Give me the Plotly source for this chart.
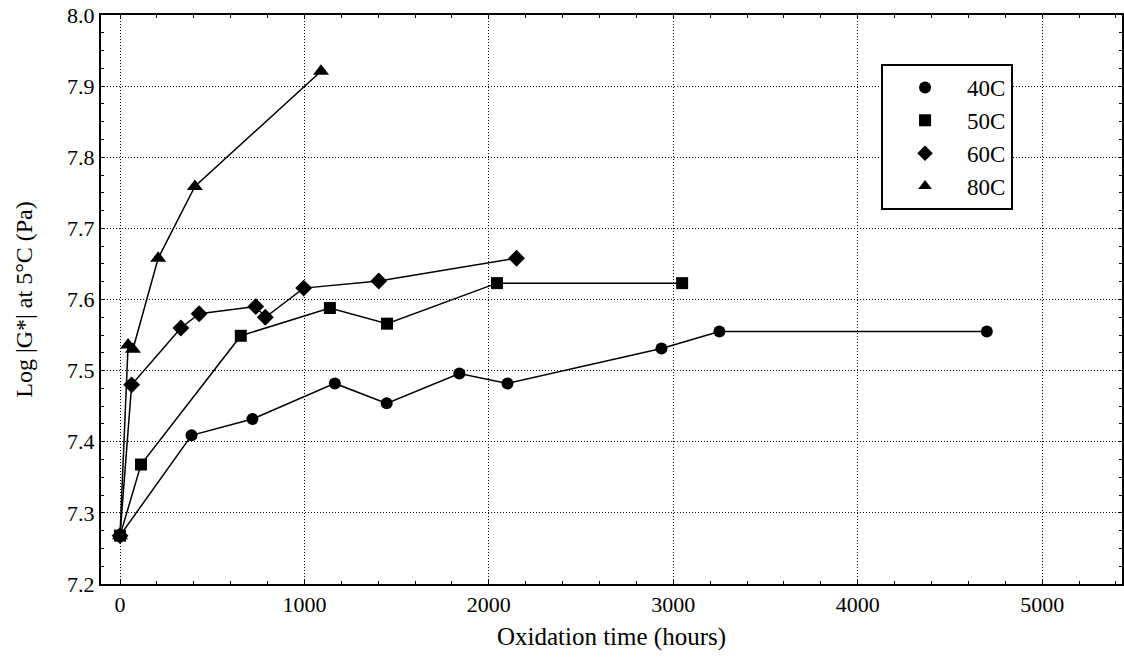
import plotly.graph_objects as go

# Data (oxidation time in hours, log|G*| at 5 C in Pa)
t40 = [0, 388, 718, 1165, 1446, 1840, 2101, 2936, 3250, 4700]
g40 = [7.268, 7.409, 7.432, 7.482, 7.454, 7.496, 7.482, 7.531, 7.555, 7.555]

t50 = [0, 114, 655, 1138, 1448, 2044, 3048]
g50 = [7.268, 7.368, 7.549, 7.588, 7.566, 7.623, 7.623]

t60 = [0, 63, 330, 429, 736, 788, 996, 1403, 2150]
g60 = [7.268, 7.480, 7.560, 7.580, 7.590, 7.575, 7.616, 7.626, 7.658]

t80 = [0, 44, 70, 207, 406, 1090]
g80 = [7.268, 7.536, 7.530, 7.658, 7.759, 7.921]

series = [
    ("40C", t40, g40, "circle", 12),
    ("50C", t50, g50, "square", 12),
    ("60C", t60, g60, "diamond", 13),
    ("80C", t80, g80, "triangle-up", 14),
]

x_ticks = [0, 1000, 2000, 3000, 4000, 5000]
x_labels = ["0", "1000", "2000", "3000", "4000", "5000"]
y_ticks = [7.2, 7.3, 7.4, 7.5, 7.6, 7.7, 7.8, 7.9, 8.0]
y_labels = ["7.2", "7.3", "7.4", "7.5", "7.6", "7.7", "7.8", "7.9", "8.0"]

FONT = "Liberation Serif"
TICKFONT = dict(family=FONT, size=22, color="black")

fig = go.Figure()
for name, x, y, sym, sz in series:
    fig.add_trace(go.Scatter(
        x=x, y=y, mode="lines+markers", name=name, showlegend=False,
        line=dict(color="black", width=1.5),
        marker=dict(symbol=sym, size=sz, color="black",
                    line=dict(color="black", width=0)),
    ))
for name, x, y, sym, sz in series:
    fig.add_trace(go.Scatter(
        x=[None], y=[None], mode="markers", name=name,
        marker=dict(symbol=sym, size=12, color="black"),
    ))

grid_dash = "1px,2px"

fig.update_layout(
    width=1124, height=666,
    margin=dict(l=101, r=0, t=15, b=82),
    paper_bgcolor="white", plot_bgcolor="white",
    font=dict(family=FONT, size=22, color="black"),
    showlegend=True,
    legend=dict(
        x=0.764, y=0.914, xanchor="left", yanchor="top",
        bgcolor="white", bordercolor="black", borderwidth=2,
        font=dict(family=FONT, size=23, color="black"),
        itemwidth=74, tracegroupgap=0,
    ),
)
fig.update_xaxes(
    range=[-103, 5433],
    tickmode="array", tickvals=x_ticks, ticktext=x_labels,
    tickfont=TICKFONT,
    showgrid=True, gridcolor="black", gridwidth=1.3, griddash=grid_dash,
    zeroline=False,
    showline=True, linecolor="black", linewidth=2, mirror="allticks",
    ticks="inside", ticklen=4, tickcolor="black",
    minor=dict(dtick=200, ticks="inside", ticklen=3, tickcolor="black", showgrid=False),
    title=dict(text="Oxidation time (hours)", font=dict(family=FONT, size=25), standoff=11),
)
fig.update_yaxes(
    range=[7.2, 8.0],
    tickmode="array", tickvals=y_ticks, ticktext=y_labels,
    tickfont=TICKFONT,
    showgrid=True, gridcolor="black", gridwidth=1.3, griddash=grid_dash,
    zeroline=False,
    showline=True, linecolor="black", linewidth=2, mirror="allticks",
    ticks="inside", ticklen=4, tickcolor="black",
    minor=dict(dtick=0.025, ticks="inside", ticklen=3, tickcolor="black", showgrid=False),
    title=dict(text="Log |G*| at 5°C (Pa)", font=dict(family=FONT, size=24), standoff=28),
)

fig.write_html("out.html")
